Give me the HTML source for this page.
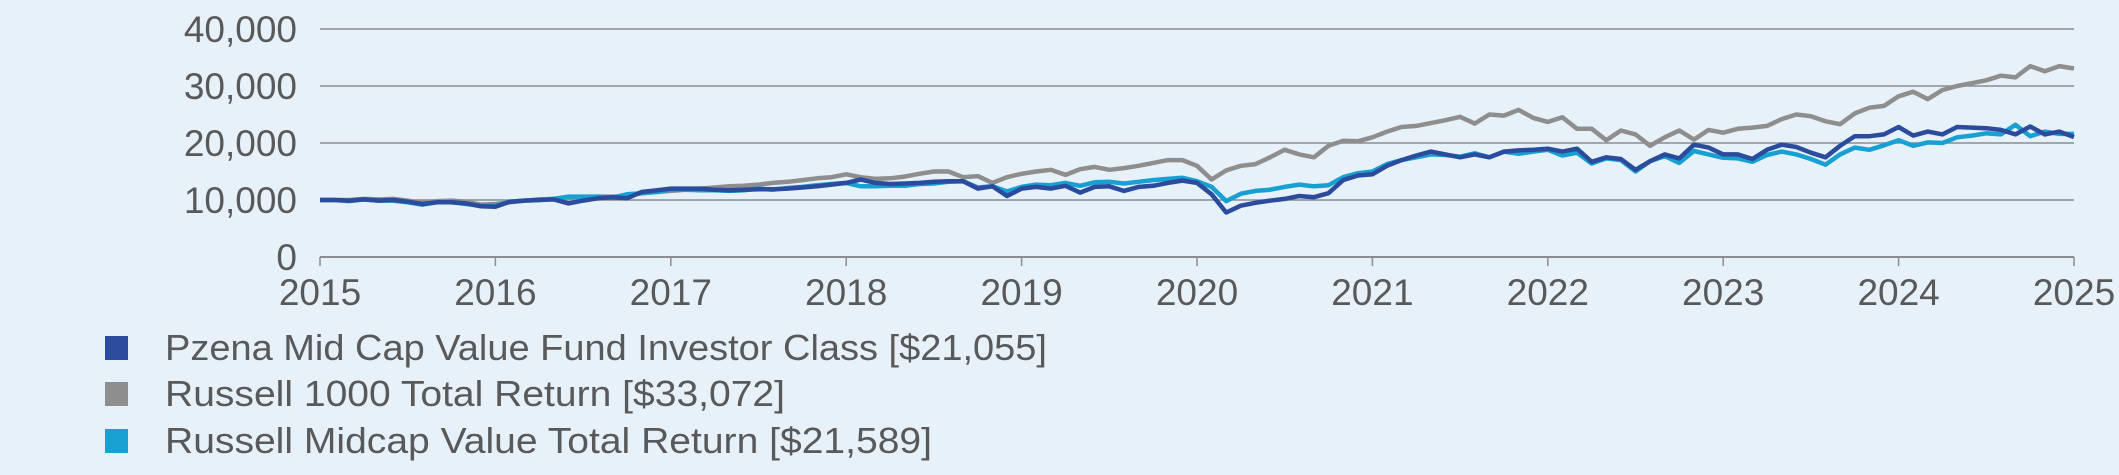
<!DOCTYPE html>
<html><head><meta charset="utf-8"><style>
html,body{margin:0;padding:0;background:#e7f1f9;}
svg{display:block;font-family:"Liberation Sans",Arial,sans-serif;}
</style></head><body>
<svg id="chart" width="2119" height="475" viewBox="0 0 2119 475" xmlns="http://www.w3.org/2000/svg">
<rect x="0" y="0" width="2119" height="475" fill="#e7f1f9"/>
<g id="grid"></g>
<g id="yaxis"></g>
<g id="xaxis"></g>
<g id="series"></g>
<g id="legend"></g>
</svg>
<script>
const yTicks=[0,10000,20000,30000,40000];
const yTickLabels=["0","10,000","20,000","30,000","40,000"];
const xYears=[2015,2016,2017,2018,2019,2020,2021,2022,2023,2024,2025];
const fundValues=[10000,
10000,9900,10100,9900,10000,9700,9300,9600,9600,9400,8900,8800,
9700,9900,10000,10100,9400,9900,10300,10500,10300,11400,11700,12000,
12000,12000,11800,11700,11800,11900,11900,12000,12200,12400,12700,13000,
13600,13000,12800,12900,13000,13200,13300,13300,12000,12400,10700,12000,
12300,12000,12500,11300,12300,12400,11600,12300,12500,13000,13400,13000,
11000,7800,9000,9500,9900,10200,10700,10500,11200,13500,14300,14500,
16000,17000,17800,18500,18000,17500,18000,17500,18500,18700,18800,19000,
18500,19000,16700,17500,17200,15300,16800,18000,17300,19700,19200,18000,
18000,17200,18800,19700,19300,18300,17500,19500,21200,21200,21500,22800,
21300,22000,21500,22800,22700,22600,22300,21500,22900,21500,22000,21055];
const r1000Values=[10000,
10000,10000,10200,10100,10200,9900,9500,9800,9900,9700,9200,9300,
9600,9900,10100,10200,10300,10400,10600,10600,10700,11200,11400,11600,
11800,12000,12200,12400,12500,12700,13000,13200,13500,13800,14000,14500,
14000,13700,13800,14100,14600,15000,15000,14000,14200,13000,14000,14600,
15000,15300,14400,15400,15800,15300,15600,16000,16500,17000,17000,16000,
13600,15200,16000,16300,17500,18800,18000,17500,19500,20400,20300,21000,
22000,22800,23000,23500,24000,24600,23400,25000,24800,25800,24400,23700,
24500,22500,22500,20500,22200,21500,19500,21000,22200,20600,22300,21800,
22500,22700,23000,24200,25000,24700,23800,23300,25200,26200,26500,28200,
29000,27700,29300,30000,30500,31000,31800,31500,33500,32600,33500,33072];
const midValueValues=[10000,
10000,9800,10100,9900,9900,9600,9200,9600,9600,9300,9000,9000,
9700,9900,10000,10200,10600,10600,10600,10400,11000,11200,11400,11800,
11800,11700,11700,11600,11700,12000,11800,12100,12300,12600,12800,13000,
12400,12400,12500,12500,12800,12900,13200,13300,12200,12400,11500,12300,
12700,12600,13000,12500,13100,13200,12900,13200,13500,13700,13900,13300,
12300,9800,11100,11600,11800,12300,12700,12400,12600,14000,14700,15000,
16300,17000,17500,18000,17900,17600,18200,17500,18500,18100,18500,18800,
17800,18300,16400,17300,17000,15000,16800,17700,16500,18600,18000,17400,
17300,16700,17900,18500,18000,17200,16200,18000,19200,18800,19600,20500,
19500,20100,20000,21000,21300,21700,21500,23200,21200,22000,21600,21589];
const legendLabels=["Pzena Mid Cap Value Fund Investor Class [$21,055]","Russell 1000 Total Return [$33,072]","Russell Midcap Value Total Return [$21,589]"];

const NS="http://www.w3.org/2000/svg";
const L=320,R=2074,T=29,B=257;
function xScale(i,n){return L+(R-L)*i/(n-1);}
function xYear(y){return L+(R-L)*(y-2015)/10;}
function yScale(v){return B-(B-T)*v/40000;}
function mk(tag,attrs,parent){const e=document.createElementNS(NS,tag);for(const k in attrs)e.setAttribute(k,attrs[k]);parent.appendChild(e);return e;}
const grid=document.getElementById('grid'),ya=document.getElementById('yaxis'),xa=document.getElementById('xaxis'),sg=document.getElementById('series'),lg=document.getElementById('legend');
yTicks.forEach((v,i)=>{
  const y=yScale(v);
  const ln=mk('line',{x1:L,x2:R,y1:y,y2:y,stroke:'#8a8d92','stroke-width':v===0?2:1.6},grid);
  
  
  const t=mk('text',{x:297,y:y+13,'text-anchor':'end','font-size':37,fill:'#58595b'},ya);
  t.textContent=yTickLabels[i];
  
  
});
xYears.forEach(yr=>{
  const x=xYear(yr);
  const tk=mk('line',{x1:x,x2:x,y1:B,y2:B+9,stroke:'#8a8d92','stroke-width':1.5},xa);
  
  
  const t=mk('text',{x:x,y:305,'text-anchor':'middle','font-size':37,fill:'#58595b'},xa);
  t.textContent=String(yr);
  
  
});
const series=[[r1000Values,'#8e8e8e','russell-1000-line'],[midValueValues,'#18a0d3','russell-midcap-value-line'],[fundValues,'#2b4c9d','pzena-fund-line']];
series.forEach(([vals,col,name])=>{
  const d=vals.map((v,i)=>(i?'L':'M')+xScale(i,vals.length).toFixed(1)+','+yScale(v).toFixed(1)).join(' ');
  const p=mk('path',{d:d,fill:'none',stroke:col,'stroke-width':4.5,'stroke-linejoin':'round'},sg);
  
  
});
const legCols=['#2b4c9d','#8e8e8e','#18a0d3'];
const legY=[348,394,441];
const legW=[882,620,767];
legendLabels.forEach((lab,i)=>{
  const s=mk('rect',{x:105,y:legY[i]-12,width:23,height:24,fill:legCols[i]},lg);
  
  
  const t=mk('text',{x:165,y:legY[i]+12,'font-size':36,fill:'#58595b',textLength:legW[i],lengthAdjust:'spacingAndGlyphs'},lg);
  t.textContent=lab;
  
  
});
</script>
</body></html>
